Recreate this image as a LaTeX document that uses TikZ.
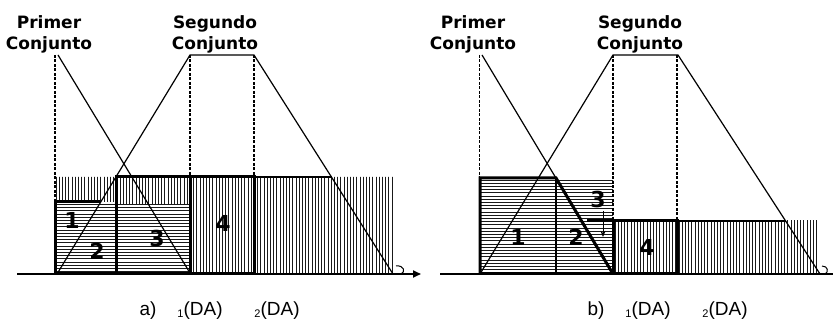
\documentclass[tikz,border=0pt]{standalone}
\usepackage{fontspec}
\setmainfont{Liberation Sans}
\newfontfamily\vfont{DejaVu Sans}
\usetikzlibrary{arrows.meta}
\begin{document}
\begin{tikzpicture}[x=1pt,y=-1pt,
 setline/.style={line width=1.2pt},
 thickline/.style={line width=3pt},
 midline/.style={line width=1.8pt},
 dashline/.style={line width=1.4pt,dash pattern=on 3pt off 1.5pt},
 hatch/.style={line width=0.85pt,black!90},
 title/.style={font=\vfont\bfseries\fontsize{17}{21}\selectfont,align=center,inner sep=0pt},
 num/.style={font=\vfont\bfseries\fontsize{22}{22}\selectfont,inner sep=0pt},
 captxt/.style={font=\fontsize{19}{19}\selectfont,inner sep=0pt,anchor=base},
 axisline/.style={line width=1.8pt}]
\useasboundingbox (0,0) rectangle (833,320);

% ================= panel a =================
\begin{scope}
\clip (55,177) rectangle (116,202) (116,177) rectangle (190,204) (190,177) rectangle (393,274);
\foreach \x in {56,59.2,...,394} \draw[hatch] (\x,170) -- (\x,280);
\end{scope}
\begin{scope}
\clip (55,202) rectangle (116,274) (116,204) rectangle (190,274);
\foreach \y in {204.5,207.7,...,274} \draw[hatch] (50,\y) -- (195,\y);
\end{scope}

\draw[dashline] (55,55) -- (55,202);
\draw[dashline] (190,55) -- (190,177);
\draw[dashline] (254,55) -- (254,177);

\coordinate (a1t) at (58,55);
\coordinate (a1b) at (190,273);
\coordinate (a2b) at (57,274);
\coordinate (a2l) at (190,55);
\coordinate (a2r) at (254,55);
\coordinate (a2e) at (393,274);
\draw[setline] (a1t) -- (a1b);
\draw[setline] (a2b) -- (a2l) -- (a2r) -- (a2e);

\draw[thickline] (55,274) -- (55,202) -- (100,202);
\draw[thickline] (116,274) -- (116,177) -- (254,177) -- (254,274);
\draw[thickline] (190,177) -- (190,274);
\draw[setline] (254,177) -- (332,177);

\coordinate (axa0) at (17,274);
\coordinate (axa1) at (421,274);
\draw[axisline,-{Triangle[length=8pt,width=7pt]}] (axa0) -- (axa1);
\draw[thickline] (55,274) -- (254,274);
\draw[line width=1pt] (396,266) .. controls (404,265) and (406,272) .. (401,274);

\node[title] (pa1) at (49,34) {Primer\\Conjunto};
\node[title] (pa2) at (215,34) {Segundo\\Conjunto};
\node[num] (na1) at (72,220) {1};
\node[num] (na2) at (97,251) {2};
\node[num] (na3) at (157,238) {3};
\node[num] (na4) at (223,223) {4};
\node[captxt] (capa) at (148,316) {a)};
\node[captxt] (ma1) at (200,316) {\raisebox{-2pt}{\fontsize{11}{11}\selectfont 1}(DA)};
\node[captxt] (ma2) at (277,316) {\raisebox{-2pt}{\fontsize{11}{11}\selectfont 2}(DA)};

% ================= panel b =================
\begin{scope}
\clip (480,178) rectangle (613,274);
\foreach \y in {180,183.2,...,274} \draw[hatch] (475,\y) -- (618,\y);
\end{scope}
\begin{scope}
\clip (613,221) rectangle (818,274);
\foreach \x in {615,618.2,...,819} \draw[hatch] (\x,215) -- (\x,280);
\end{scope}

\draw[dashline,line width=0.9pt] (479,55) -- (479,178);
\draw[dashline] (613,55) -- (613,221);
\draw[dashline] (677,55) -- (677,221);

\coordinate (b1t) at (482,55);
\coordinate (b1b) at (613,273);
\coordinate (b2b) at (480,274);
\coordinate (b2l) at (613,55);
\coordinate (b2r) at (678,55);
\coordinate (b2e) at (820,274);
\draw[setline] (b1t) -- (b1b);
\draw[setline] (b2b) -- (b2l) -- (b2r) -- (b2e);

\draw[thickline] (480,274) -- (480,178) -- (556,178) -- (613,274);
\draw[midline] (556,178) -- (556,274);
\draw[thickline] (587,221) -- (677,221) -- (677,274);
\draw[thickline] (613,221) -- (613,274);
\draw[setline] (677,221) -- (786,221);

\coordinate (axb0) at (440,274);
\coordinate (axb1) at (833,274);
\draw[axisline] (axb0) -- (axb1);
\draw[thickline] (480,274) -- (677,274);
\draw[line width=1pt] (822,266) .. controls (828,266) and (829,272) .. (825,274);

\node[title] (pb1) at (473,34) {Primer\\Conjunto};
\node[title] (pb2) at (640,34) {Segundo\\Conjunto};
\node[num] (nb1) at (518,237) {1};
\node[num] (nb2) at (576,237) {2};
\node[num] (nb3) at (598,199) {3};
\node[num] (nb4) at (647,247) {4};
\coordinate (arr0) at (603,211);
\coordinate (arr1) at (603,237);
\draw[line width=1pt,-{Stealth[length=6pt,width=5pt]}] (arr0) -- (arr1);
\node[captxt] (capb) at (596,316) {b)};
\node[captxt] (mb1) at (648,316) {\raisebox{-2pt}{\fontsize{11}{11}\selectfont 1}(DA)};
\node[captxt] (mb2) at (725,316) {\raisebox{-2pt}{\fontsize{11}{11}\selectfont 2}(DA)};
\end{tikzpicture}
\end{document}
